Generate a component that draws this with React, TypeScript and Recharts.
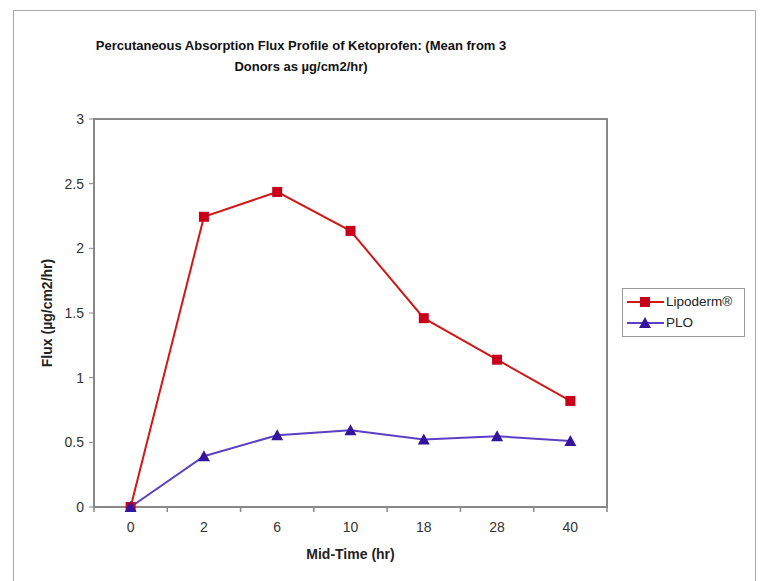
import React from 'react'
import { LineChart, Line, XAxis, YAxis, ReferenceArea } from 'recharts'

const times = ['0', '2', '6', '10', '18', '28', '40']
const lipoderm = [0, 2.244, 2.436, 2.135, 1.46, 1.139, 0.82]
const plo = [0, 0.393, 0.555, 0.594, 0.522, 0.547, 0.511]
const yTicks = [0, 0.5, 1, 1.5, 2, 2.5, 3]

const data = times.map((t, i) => ({ time: t, lipoderm: lipoderm[i], plo: plo[i] }))

const RED = '#d01818'
const RED_MARK = '#c8001a'
const PURPLE = '#5b3fc4'
const PURPLE_MARK = '#33149c'
const FONT = 'Arial, "Liberation Sans", sans-serif'

function SquareDot(props: any) {
  const { cx, cy, index } = props
  if (cx == null || cy == null) return null
  return <rect key={'s' + index} x={cx - 5} y={cy - 5} width={10} height={10} fill={RED_MARK} />
}

function TriangleDot(props: any) {
  const { cx, cy, index } = props
  if (cx == null || cy == null) return null
  return (
    <path key={'t' + index} d={`M${cx},${cy - 6} L${cx + 6},${cy + 5} L${cx - 6},${cy + 5} Z`} fill={PURPLE_MARK} />
  )
}

// category labels with Excel style tick marks on the band edges
function TimeTick(props: any) {
  const { x, y, payload, index } = props
  const half = payload.offset || 0
  const axisY = y - 8
  return (
    <g>
      <line x1={x - half} y1={axisY} x2={x - half} y2={axisY + 5} stroke="#888" strokeWidth={1.5} />
      {index === times.length - 1 && (
        <line x1={x + half} y1={axisY} x2={x + half} y2={axisY + 5} stroke="#888" strokeWidth={1.5} />
      )}
      <text x={x} y={y + 17} textAnchor="middle" fontSize={14} fill="#333" fontFamily={FONT}>
        {payload.value}
      </text>
    </g>
  )
}

function LegendBox() {
  const items = [
    { label: 'Lipoderm®', color: RED, mark: 'square' },
    { label: 'PLO', color: PURPLE, mark: 'triangle' },
  ]
  return (
    <div
      style={{
        position: 'absolute',
        left: 622,
        top: 288,
        width: 123,
        height: 49,
        boxSizing: 'border-box',
        border: '1px solid #999',
        background: '#fff',
        padding: '2px 0 0 4px',
        fontFamily: FONT,
        fontSize: 13.5,
        color: '#222',
      }}
    >
      {items.map(it => (
        <div key={it.label} style={{ display: 'flex', alignItems: 'center', height: 21 }}>
          <svg width={37} height={14} style={{ marginRight: 2 }}>
            <line x1={0} y1={7} x2={37} y2={7} stroke={it.color} strokeWidth={2} />
            {it.mark === 'square' ? (
              <rect x={13} y={2} width={10} height={10} fill={RED_MARK} />
            ) : (
              <path d="M18,1 L24,12 L12,12 Z" fill={PURPLE_MARK} />
            )}
          </svg>
          <span>{it.label}</span>
        </div>
      ))}
    </div>
  )
}

export default function App() {
  return (
    <div style={{ position: 'fixed', left: 0, top: 0, width: 761, height: 581, background: '#fff', overflow: 'hidden' }}>
      <div
        style={{
          position: 'absolute',
          left: 13,
          top: 10,
          width: 743,
          height: 600,
          border: '1.5px solid #aaa',
          boxSizing: 'border-box',
        }}
      />
      <div
        style={{
          position: 'absolute',
          left: 0,
          width: 602,
          top: 35,
          textAlign: 'center',
          fontFamily: FONT,
          fontWeight: 'bold',
          fontSize: 13,
          lineHeight: '21px',
          color: '#111',
        }}
      >
        Percutaneous Absorption Flux Profile of Ketoprofen: (Mean from 3
        <br />
        Donors as µg/cm2/hr)
      </div>
      <LineChart
        width={761}
        height={581}
        data={data}
        margin={{ top: 119, right: 154, bottom: 24, left: 0 }}
        style={{ position: 'absolute', left: 0, top: 0 }}
      >
        <XAxis
          dataKey="time"
          xAxisId="main"
          scale="band"
          height={50}
          interval={0}
          tickLine={false}
          axisLine={{ stroke: '#888', strokeWidth: 2 }}
          tick={<TimeTick />}
          label={{
            value: 'Mid-Time (hr)',
            position: 'insideBottom',
            offset: -2,
            style: { fontFamily: FONT, fontWeight: 'bold', fontSize: 14, fill: '#222' },
          }}
        />
        <YAxis
          yAxisId="main"
          width={94}
          domain={[0, 3]}
          ticks={yTicks}
          tickSize={5}
          tickMargin={5}
          tickLine={{ stroke: '#888' }}
          axisLine={{ stroke: '#888', strokeWidth: 2 }}
          tick={{ fontSize: 14, fill: '#333', fontFamily: FONT }}
          label={{
            value: 'Flux (µg/cm2/hr)',
            angle: -90,
            position: 'insideLeft',
            offset: 47,
            style: { textAnchor: 'middle', fontFamily: FONT, fontWeight: 'bold', fontSize: 14, fill: '#222' },
          }}
        />
        <ReferenceArea
          xAxisId="main"
          yAxisId="main"
          y1={0}
          y2={3}
          fill="none"
          stroke="#888"
          strokeWidth={2}
        />
        <Line
          xAxisId="main"
          yAxisId="main"
          dataKey="lipoderm"
          name="Lipoderm®"
          stroke={RED}
          strokeWidth={2}
          dot={<SquareDot />}
          activeDot={false}
          isAnimationActive={false}
        />
        <Line
          xAxisId="main"
          yAxisId="main"
          dataKey="plo"
          name="PLO"
          stroke={PURPLE}
          strokeWidth={2}
          dot={<TriangleDot />}
          activeDot={false}
          isAnimationActive={false}
        />
      </LineChart>
      <LegendBox />
    </div>
  )
}
